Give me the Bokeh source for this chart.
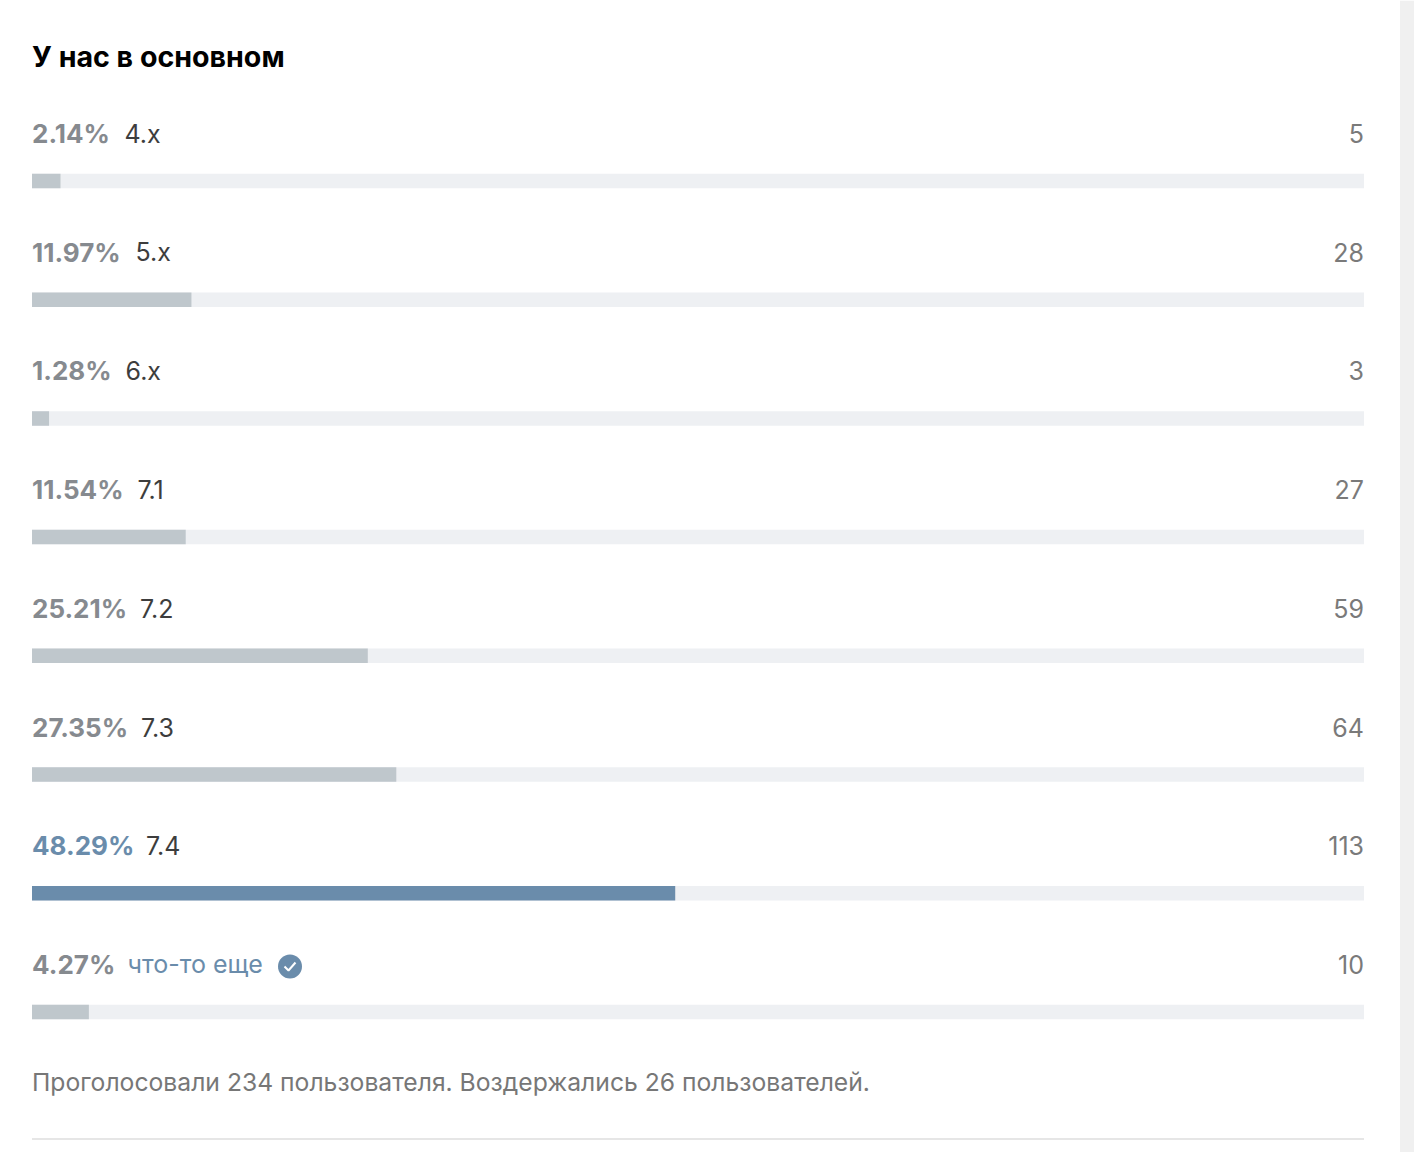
from bokeh.embed import file_html
from bokeh.resources import INLINE
from bokeh.plotting import figure
from bokeh.models import BoxAnnotation, ColumnDataSource, Range1d
from bokeh.core.properties import value

# ---- data ----
title = "У нас в основном"
labels = ["4.x", "5.x", "6.x", "7.1", "7.2", "7.3", "7.4", "что-то еще"]
percents = [2.14, 11.97, 1.28, 11.54, 25.21, 27.35, 48.29, 4.27]
votes = [5, 28, 3, 27, 59, 64, 113, 10]
winner = "7.4"
chosen = "что-то еще"
footer = "Проголосовали 234 пользователя. Воздержались 26 пользователей."

# ---- layout (pixels of the page) ----
W, H, M = 1414, 1152, 0.5
LEFT, RIGHT = 32, 1364
ROW0, PITCH = 181, 118.7
label_px = [124.5, 135.5, 125.5, 137.5, 140, 141, 146, 127.5]
FONT = value("Inter")
PCT = (RIGHT - LEFT) / 100

def px_x(px):
    return (px - LEFT) / PCT

def px_y(px):
    return (px - ROW0) / PITCH

p = figure(width=W, height=H, output_backend="svg", toolbar_location=None,
           x_range=Range1d(px_x(M), px_x(M + W)),
           y_range=Range1d(px_y(M + H), px_y(M)),
           x_axis_location=None, y_axis_location=None, min_border=0,
           outline_line_color=None, background_fill_color="#ffffff")
p.grid.visible = False

p.add_layout(BoxAnnotation(left=px_x(1400), right=px_x(M + W), fill_color="#f0f0f0",
                           fill_alpha=1, line_color=None, level="underlay"))

rows = list(range(len(labels)))
BLUE, GRAY = "#6a8cab", "#bfc7cc"
src = ColumnDataSource(dict(
    y=rows,
    pct=percents,
    hundred=[100] * len(rows),
    zero=[0] * len(rows),
    fill=[BLUE if l == winner else GRAY for l in labels],
    pct_text=[f"{v:.2f}%" for v in percents],
    pct_color=[BLUE if l == winner else "#868a8f" for l in labels],
    label=labels,
    label_x=[px_x(v) for v in label_px],
    label_color=[BLUE if l == chosen else "#3d3d3d" for l in labels],
    votes=[str(v) for v in votes],
))

BAR_H = 14.5 / PITCH
p.hbar(y="y", left="zero", right="hundred", height=BAR_H, source=src,
       fill_color="#eef0f3", line_color=None)
p.hbar(y="y", left="zero", right="pct", height=BAR_H, source=src,
       fill_color="fill", line_color=None)

p.text(x="zero", y="y", text="pct_text", source=src, y_offset=-47.5, text_font=FONT,
       text_font_size="26px", text_font_style="bold", text_color="pct_color",
       text_baseline="middle")
p.text(x="label_x", y="y", text="label", source=src, y_offset=-47.5, text_font=FONT,
       text_font_size="25px", text_color="label_color", text_baseline="middle")
p.text(x="hundred", y="y", text="votes", source=src, y_offset=-47.5, text_font=FONT,
       text_font_size="25px", text_color="#7a7a7a", text_align="right",
       text_baseline="middle")

p.text(x=[0], y=[px_y(56)], text=[title], text_font=FONT, text_font_size="28.6px",
       text_font_style="bold", text_color="#000000", text_baseline="middle")
p.text(x=[0], y=[px_y(1081.5)], text=[footer], text_font=FONT, text_font_size="24.7px",
       text_color="#777777", text_baseline="middle")

p.segment(x0=[0], x1=[100], y0=[px_y(1139)], y1=[px_y(1139)], line_color="#e6e6e6",
          line_width=2)

# check mark of the chosen option
p.scatter(x=[px_x(290)], y=[px_y(966.5)], size=24, marker="circle",
          fill_color=BLUE, line_color=None)
p.line(x=[px_x(284.5), px_x(288.5), px_x(295.5)], y=[px_y(966.5), px_y(970.5), px_y(962.5)],
       line_color="#ffffff", line_width=2)

open("out.html", "w").write(file_html(p, INLINE))
